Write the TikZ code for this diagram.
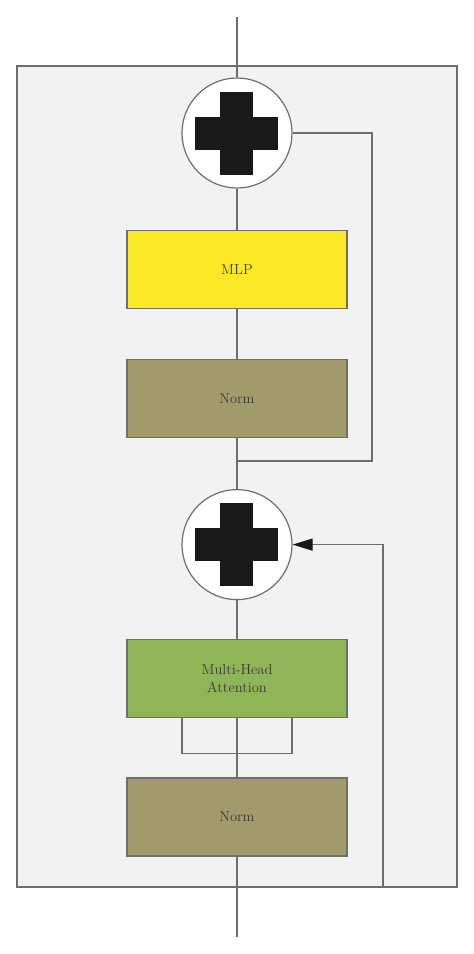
\documentclass[tikz,border=0pt]{standalone}
\usepackage{tikz}
\usetikzlibrary{positioning,arrows.meta}

\definecolor{framefill}{HTML}{F2F2F2}
\definecolor{linegray}{HTML}{6E6E6E}
\definecolor{textgray}{HTML}{3A3A3A}
\definecolor{mlpyellow}{HTML}{FBE926}
\definecolor{normolive}{HTML}{A19A6B}
\definecolor{mhagreen}{HTML}{8FB556}

\begin{document}
\begin{tikzpicture}[
  every node/.style={font=\fontsize{14.5}{18}\selectfont,text=textgray},
  block/.style={rectangle,draw=linegray,line width=1.2pt,minimum width=220pt,minimum height=78pt,inner sep=0pt,align=center},
  adder/.style={circle,draw=linegray,line width=1.2pt,fill=white,minimum size=110pt,inner sep=0pt,
    path picture={\fill[black!90] ([xshift=-41.5pt,yshift=-16.5pt]path picture bounding box.center) rectangle ++(83pt,33pt);
                  \fill[black!90] ([xshift=-16.5pt,yshift=-41.5pt]path picture bounding box.center) rectangle ++(33pt,83pt);}},
  wire/.style={draw=linegray,line width=1.2pt},
  >={Triangle[length=20pt,width=12pt,fill=black!90,color=black!90]}
]

% BOUNDS AND FRAME
\useasboundingbox (-237pt,133pt) rectangle (237pt,-821pt);
\fill[framefill,draw=linegray,line width=1.2pt] (-220pt,67pt) rectangle (220pt,-754pt);

% IN AND OUT
\coordinate (in) at (0,116pt);
\coordinate (out) at (0,-804pt);
\coordinate (skipin) at (146pt,-754pt);

% UPPER PART
\node[adder] (add1) at (0,0) {};
\node[block,fill=mlpyellow] (mlp) [below=41pt of add1] {MLP};
\node[block,fill=normolive] (norm1) [below=50pt of mlp] {Norm};
\coordinate (split) at ([yshift=-23pt]norm1.south);

% LOWER PART
\node[adder] (add2) [below=51pt of norm1] {};
\node[block,fill=mhagreen] (mha) [below=39pt of add2] {Multi-Head\\Attention};
\node[block,fill=normolive] (norm2) [below=59pt of mha] {Norm};

% MAIN LINE
\draw[wire] (in) -- (add1);
\draw[wire] (add1) -- (mlp);
\draw[wire] (mlp) -- (norm1);
\draw[wire] (norm1) -- (add2);
\draw[wire] (add2) -- (mha);
\draw[wire] (mha) -- (norm2);
\draw[wire] (norm2) -- (out);

% HEADS
\draw[wire] ([xshift=-55pt]mha.south) |- ([yshift=-35pt]mha.south) -| ([xshift=55pt]mha.south);

% SKIP CONNECTIONS
\draw[wire] (split) -| ([xshift=135pt]add1.center) -- (add1.east);
\draw[wire,->] (skipin) |- (add2.east);

\end{tikzpicture}
\end{document}
